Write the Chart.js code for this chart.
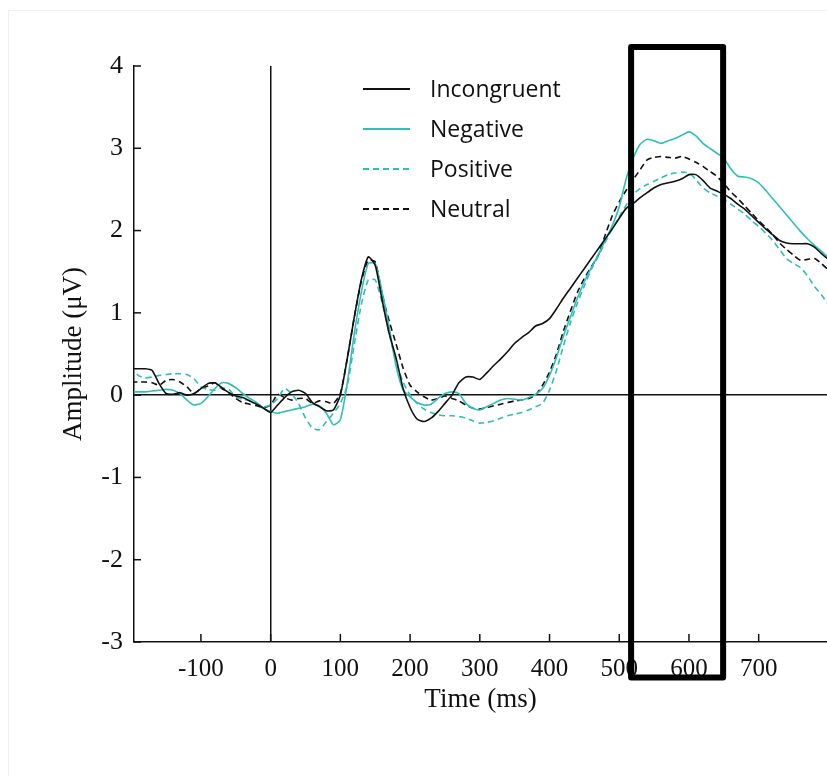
<html>
<head>
<script src="https://cdn.jsdelivr.net/npm/chart.js@4.4.0/dist/chart.umd.min.js"></script>
<style>
body { margin: 0; background: #ffffff; }
#wrap { position: relative; width: 827px; height: 776px; overflow: hidden; }
#frame { position: absolute; left: 8px; top: 10px; width: 830px; height: 780px; border-left: 1px solid #f0f0f0; border-top: 1px solid #f0f0f0; }
.legend { position: absolute; left: 363px; top: 68px; font-family: "Open Sans", sans-serif; font-size: 23px; color: #111; }
.legend div { height: 40px; line-height: 40px; position: relative; }
.legend svg { position: absolute; left: 0; top: 19px; }
.legend span { margin-left: 67px; }
</style>
</head>
<body>
<div id="wrap">
<div id="frame"></div>
<canvas id="erp" width="827" height="776"></canvas>
<div class="legend" id="legend"></div>
</div>
<script>
// time points (ms)
var times = [-200,-190,-180,-170,-160,-150,-140,-130,-120,-110,
  -100,-90,-80,-70,-60,-50,-40,-30,-20,-10,
  0,10,20,30,40,50,60,70,80,90,
  100,110,120,130,140,150,160,170,180,190,
  200,210,220,230,240,250,260,270,280,290,
  300,310,320,330,340,350,360,370,380,390,
  400,410,420,430,440,450,460,470,480,490,
  500,510,520,530,540,550,560,570,580,590,
  600,610,620,630,640,650,660,670,680,690,
  700,710,720,730,740,750,760,770,780,790,
  800];

var incongruent = [0.32,0.32,0.32,0.30,0.14,0.02,0.01,0.03,0.00,0.02,
  0.08,0.14,0.15,0.09,0.03,-0.01,-0.03,-0.07,-0.11,-0.16,
  -0.21,-0.12,-0.03,0.04,0.06,0.02,-0.09,-0.14,-0.19,-0.18,
  0.00,0.45,0.95,1.40,1.68,1.58,1.15,0.75,0.45,0.08,
  -0.15,-0.29,-0.32,-0.28,-0.20,-0.10,0.00,0.15,0.22,0.22,
  0.19,0.27,0.36,0.44,0.53,0.63,0.70,0.76,0.84,0.87,
  0.93,1.05,1.18,1.30,1.42,1.54,1.66,1.78,1.90,2.02,
  2.15,2.27,2.33,2.40,2.46,2.52,2.56,2.58,2.60,2.63,
  2.68,2.68,2.61,2.52,2.48,2.44,2.39,2.32,2.26,2.18,
  2.10,2.02,1.95,1.88,1.85,1.84,1.84,1.84,1.80,1.72,
  1.65];

var negative = [0.04,0.04,0.04,0.05,0.06,0.07,0.06,0.02,-0.06,-0.12,
  -0.10,-0.02,0.08,0.15,0.14,0.09,0.02,-0.04,-0.09,-0.16,
  -0.20,-0.22,-0.20,-0.18,-0.16,-0.14,-0.11,-0.13,-0.22,-0.36,
  -0.30,0.15,0.75,1.25,1.60,1.60,1.25,0.82,0.35,0.06,
  -0.02,-0.09,-0.12,-0.11,-0.04,0.02,0.04,0.02,-0.10,-0.16,
  -0.18,-0.14,-0.10,-0.06,-0.04,-0.05,-0.06,-0.03,0.01,0.08,
  0.24,0.46,0.72,0.95,1.18,1.38,1.55,1.71,1.88,2.06,
  2.29,2.63,2.88,3.05,3.11,3.09,3.06,3.09,3.12,3.16,
  3.20,3.15,3.06,3.00,2.94,2.88,2.75,2.66,2.65,2.63,
  2.58,2.49,2.39,2.29,2.19,2.09,1.99,1.90,1.82,1.75,
  1.67];

var positive = [0.36,0.24,0.21,0.22,0.24,0.25,0.26,0.26,0.25,0.20,
  0.10,0.07,0.06,0.09,0.07,-0.02,-0.05,-0.07,-0.10,-0.14,
  -0.12,-0.04,0.08,0.02,-0.10,-0.28,-0.40,-0.42,-0.32,-0.22,
  -0.10,0.12,0.62,1.10,1.40,1.40,1.12,0.75,0.40,0.16,
  0.00,-0.10,-0.17,-0.21,-0.24,-0.25,-0.25,-0.26,-0.28,-0.31,
  -0.34,-0.33,-0.31,-0.28,-0.25,-0.23,-0.21,-0.18,-0.14,-0.10,
  0.06,0.30,0.60,0.88,1.12,1.33,1.53,1.69,1.86,2.02,
  2.17,2.31,2.44,2.51,2.56,2.60,2.64,2.68,2.70,2.71,
  2.70,2.62,2.52,2.46,2.42,2.38,2.32,2.26,2.20,2.12,
  2.05,1.97,1.88,1.77,1.66,1.60,1.55,1.45,1.32,1.22,
  1.10];

var neutral = [0.16,0.16,0.16,0.15,0.12,0.18,0.19,0.16,0.10,0.02,
  0.08,0.11,0.15,0.08,0.03,-0.04,-0.09,-0.11,-0.13,-0.15,
  -0.12,0.01,-0.03,-0.06,-0.04,-0.04,-0.10,-0.07,-0.08,-0.10,
  0.02,0.45,0.95,1.38,1.64,1.62,1.22,0.90,0.62,0.33,
  0.12,0.04,-0.02,-0.06,-0.04,-0.01,-0.04,-0.07,-0.12,-0.16,
  -0.17,-0.15,-0.13,-0.11,-0.09,-0.07,-0.06,-0.04,0.00,0.12,
  0.28,0.50,0.78,1.02,1.25,1.42,1.56,1.70,1.95,2.18,
  2.35,2.49,2.62,2.74,2.86,2.89,2.90,2.89,2.88,2.90,
  2.87,2.83,2.78,2.72,2.66,2.57,2.47,2.39,2.30,2.21,
  2.12,2.04,1.95,1.85,1.77,1.70,1.64,1.65,1.66,1.60,
  1.52];

var xTicks = [-100, 0, 100, 200, 300, 400, 500, 600, 700];
var yTicks = [-3, -2, -1, 0, 1, 2, 3, 4];

// analysis window marked with the box (ms, uV)
var windowMs = [517, 649];
var windowUv = [4.23, -3.43];

var cyan = '#2fbfb8';
var series = [
  {label: 'Incongruent', values: incongruent, color: '#111111', dash: []},
  {label: 'Negative', values: negative, color: cyan, dash: []},
  {label: 'Positive', values: positive, color: cyan, dash: [6, 4]},
  {label: 'Neutral', values: neutral, color: '#111111', dash: [6, 4]}
];

function points(vals) {
  var out = [];
  for (var i = 0; i < times.length; i++) out.push({x: times[i], y: vals[i]});
  return out;
}

var datasets = series.map(function (s) {
  return {
    label: s.label, data: points(s.values),
    borderColor: s.color, borderWidth: 1.6, borderDash: s.dash,
    pointRadius: 0, tension: 0.2, fill: false
  };
});

// html legend
var legendHtml = '';
series.forEach(function (s) {
  legendHtml += '<div><svg width="48" height="4"><line x1="0" y1="2" x2="47" y2="2" stroke="' + s.color +
    '" stroke-width="2" stroke-dasharray="' + (s.dash.length ? s.dash.join(',') : 'none') + '"/></svg><span>' + s.label + '</span></div>';
});
document.getElementById('legend').innerHTML = legendHtml;

var serif = '"Liberation Serif", "Times New Roman", serif';

var innerTicks = {
  id: 'innerTicks',
  afterDraw: function (chart) {
    var c = chart.ctx, xs = chart.scales.x, ys = chart.scales.y, a = chart.chartArea;
    c.save();
    c.strokeStyle = '#111';
    c.lineWidth = 1.5;
    xs.ticks.forEach(function (t) {
      var px = xs.getPixelForValue(t.value);
      c.beginPath(); c.moveTo(px, a.bottom); c.lineTo(px, a.bottom - 8); c.stroke();
    });
    ys.ticks.forEach(function (t) {
      var py = ys.getPixelForValue(t.value);
      c.beginPath(); c.moveTo(a.left, py); c.lineTo(a.left + 7, py); c.stroke();
    });
    // window box
    var x0 = xs.getPixelForValue(windowMs[0]), x1 = xs.getPixelForValue(windowMs[1]);
    var y0 = ys.getPixelForValue(windowUv[0]), y1 = ys.getPixelForValue(windowUv[1]);
    c.lineWidth = 6;
    c.lineJoin = 'round';
    c.strokeStyle = '#000';
    c.strokeRect(x0, y0, x1 - x0, y1 - y0);
    c.restore();
  }
};

function zeroLine(ctx) {
  return ctx.tick && ctx.tick.value === 0 ? '#111' : 'rgba(0,0,0,0)';
}

new Chart(document.getElementById('erp').getContext('2d'), {
  type: 'line',
  data: {datasets: datasets},
  options: {
    responsive: false,
    animation: false,
    layout: {padding: {top: 66, right: 0, bottom: 0, left: 0}},
    plugins: {legend: {display: false}, tooltip: {enabled: false}},
    scales: {
      x: {
        type: 'linear', min: -196, max: 798,
        afterBuildTicks: function (s) { s.ticks = xTicks.map(function (v) { return {value: v}; }); },
        afterFit: function (s) { s.height = 134; s.paddingRight = 0; s.paddingLeft = 0; },
        border: {color: '#111', width: 1.5},
        grid: {drawTicks: false, lineWidth: 1.5, color: zeroLine},
        ticks: {
          padding: 12, color: '#111', maxRotation: 0, autoSkip: false,
          font: {family: serif, size: 25}
        },
        title: {display: true, text: 'Time (ms)', color: '#111', font: {family: serif, size: 27}, padding: {top: 0, bottom: 60}}
      },
      y: {
        min: -3, max: 4,
        afterBuildTicks: function (s) { s.ticks = yTicks.map(function (v) { return {value: v}; }); },
        afterFit: function (s) { s.width = 134; },
        border: {color: '#111', width: 1.5},
        grid: {drawTicks: false, lineWidth: 1.5, color: zeroLine},
        ticks: {padding: 11, color: '#111', font: {family: serif, size: 26}},
        title: {display: true, text: 'Amplitude (\u03bcV)', color: '#111', font: {family: serif, size: 27}, padding: {top: 58, bottom: 0}}
      }
    }
  },
  plugins: [innerTicks]
});
</script>
</body>
</html>
